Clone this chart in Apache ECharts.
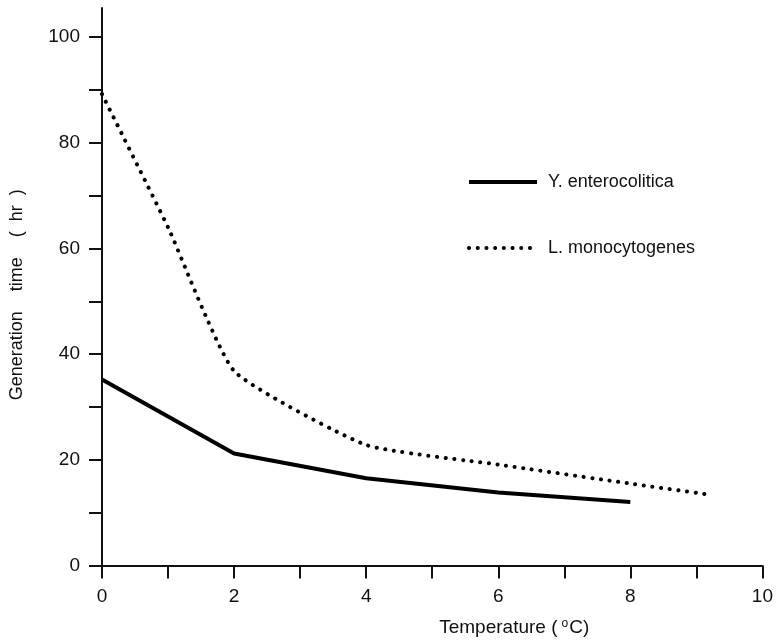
<!DOCTYPE html>
<html>
<head>
<meta charset="utf-8">
<script src="https://cdn.jsdelivr.net/npm/echarts@6/dist/echarts.min.js"></script>
<style>html,body{margin:0;padding:0;background:#fff;}#c{width:776px;height:642px;}</style>
</head>
<body>
<div id="c"></div>
<script>
const xTicks = [0, 2, 4, 6, 8, 10];
const yTicks = [0, 20, 40, 60, 80, 100];
const yeName = 'Y. enterocolitica';
const lmName = 'L. monocytogenes';
const yeX = [0, 2, 4, 6, 8];
const yeY = [35.2, 21.2, 16.5, 13.8, 12.0];
const lmX = [0, 1, 2, 4, 6, 8, 9.2];
const lmY = [89.2, 64, 36.8, 22.8, 19.1, 15.5, 13.4];

const chart = echarts.init(document.getElementById('c'));
const font = 'Liberation Sans, Arial, Helvetica, sans-serif';
chart.setOption({
  animation: false,
  backgroundColor: '#fff',
  grid: { left: 101, right: 8, top: 8, bottom: 76, containLabel: false },
  legend: {
    orient: 'vertical',
    left: 462, top: 168,
    itemWidth: 68, itemHeight: 12, itemGap: 48,
    itemStyle: { opacity: 0 },
    lineStyle: { width: 4 },
    textStyle: { fontFamily: font, fontSize: 18, color: '#111', padding: [0, 0, 0, 6] },
    data: [yeName, lmName]
  },
  xAxis: {
    type: 'value', min: 0, max: 10, interval: 1,
    name: '{a|Temperature (}{s|o}{a|C)}', nameLocation: 'middle', nameGap: 52,
    nameTextStyle: {
      fontFamily: font, fontSize: 19, color: '#111', padding: [0, 0, 0, 164],
      rich: {
        a: { fontFamily: font, fontSize: 19, color: '#111' },
        s: { fontFamily: font, fontSize: 12, color: '#111', verticalAlign: 'top', padding: [0, 1, 8, 4] }
      }
    },
    axisLine: { show: true, onZero: false, lineStyle: { color: '#111', width: 2 } },
    axisTick: { show: true, inside: false, length: 13, lineStyle: { color: '#111', width: 2 } },
    axisLabel: {
      fontFamily: font, fontSize: 19, color: '#111', margin: 22,
      formatter: v => xTicks.includes(v) ? String(v) : ''
    },
    splitLine: { show: false }
  },
  yAxis: {
    type: 'value', min: 0, max: 105.5, interval: 10,
    name: 'Generation    time    (  hr  )', nameLocation: 'middle', nameGap: 76,
    nameTextStyle: { fontFamily: font, fontSize: 18, color: '#111', padding: [0, 16, 0, 0] },
    axisLine: { show: true, lineStyle: { color: '#111', width: 2 } },
    axisTick: { show: true, inside: false, length: 13, lineStyle: { color: '#111', width: 2 } },
    axisLabel: {
      fontFamily: font, fontSize: 19, color: '#111', margin: 22,
      showMaxLabel: false,
      formatter: v => yTicks.includes(v) ? String(v) : ''
    },
    splitLine: { show: false }
  },
  series: [
    {
      name: yeName, type: 'line', symbol: 'none',
      lineStyle: { color: '#000', width: 4 },
      itemStyle: { color: '#000' },
      data: yeX.map((x, i) => [x, yeY[i]])
    },
    {
      name: lmName, type: 'line', symbol: 'none', smooth: 0.15,
      lineStyle: { color: '#000', width: 4, type: [0.1, 8.6], cap: 'round' },
      itemStyle: { color: '#000' },
      data: lmX.map((x, i) => [x, lmY[i]])
    }
  ]
});
</script>
</body>
</html>
